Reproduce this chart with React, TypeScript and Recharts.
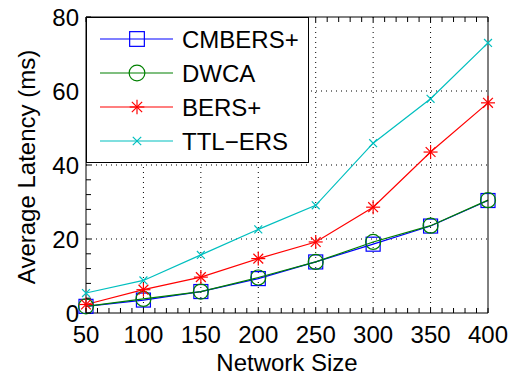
import {
  Legend,
  Line,
  LineChart,
  ReferenceLine,
  XAxis,
  YAxis,
} from 'recharts'

const networkSizes = [50, 100, 150, 200, 250, 300, 350, 400]
const cmbers = [1.8, 3.5, 5.8, 9.3, 13.8, 18.6, 23.5, 30.4]
const dwca = [1.8, 3.8, 5.8, 9.6, 13.8, 19.2, 23.6, 30.5]
const bers = [2.3, 6.3, 9.7, 14.7, 19.2, 28.6, 43.5, 56.8]
const ttlErs = [5.4, 8.8, 15.7, 22.6, 29.1, 45.9, 57.9, 73.0]

const xMajor = [50, 100, 150, 200, 250, 300, 350, 400]
const yMajor = [0, 20, 40, 60, 80]
// minor ticks, matlab style: every 10 on x, every 4 on y
const xMinor = Array.from({ length: 36 }, (_, i) => 50 + i * 10)
const yMinor = Array.from({ length: 21 }, (_, i) => i * 4)

type Kind = 'square' | 'circle' | 'star' | 'cross'

const series: { key: string; name: string; color: string; kind: Kind }[] = [
  { key: 'cmbers', name: 'CMBERS+', color: '#0000ff', kind: 'square' },
  { key: 'dwca', name: 'DWCA', color: '#008000', kind: 'circle' },
  { key: 'bers', name: 'BERS+', color: '#ff0000', kind: 'star' },
  { key: 'ttl', name: 'TTL\u2212ERS', color: '#00bfbf', kind: 'cross' },
]

const data = networkSizes.map((n, i) => ({
  size: n,
  cmbers: cmbers[i],
  dwca: dwca[i],
  bers: bers[i],
  ttl: ttlErs[i],
}))

const font = 'Arial, "Liberation Sans", sans-serif'
const TICK = 5
const gridStyle = { stroke: '#000', strokeDasharray: '1 4', strokeWidth: 1 }

function Marker({ kind, cx, cy, color, scale = 1 }: {
  kind: Kind
  cx: number
  cy: number
  color: string
  scale?: number
}) {
  const s = 7 * scale
  if (kind === 'square')
    return <rect x={cx - s} y={cy - s} width={2 * s} height={2 * s} fill="none" stroke={color} strokeWidth={1.2} />
  if (kind === 'circle')
    return <circle cx={cx} cy={cy} r={s + 0.5} fill="none" stroke={color} strokeWidth={1.2} />
  if (kind === 'star') {
    const d = s * 0.7
    return (
      <g stroke={color} strokeWidth={1.2}>
        <line x1={cx - s} y1={cy} x2={cx + s} y2={cy} />
        <line x1={cx} y1={cy - s} x2={cx} y2={cy + s} />
        <line x1={cx - d} y1={cy - d} x2={cx + d} y2={cy + d} />
        <line x1={cx - d} y1={cy + d} x2={cx + d} y2={cy - d} />
      </g>
    )
  }
  const d = s * 0.75
  return (
    <g stroke={color} strokeWidth={1.2}>
      <line x1={cx - d} y1={cy - d} x2={cx + d} y2={cy + d} />
      <line x1={cx - d} y1={cy + d} x2={cx + d} y2={cy - d} />
    </g>
  )
}

function BottomTick({ x, y, payload }: any) {
  const major = xMajor.includes(payload.value)
  return (
    <g>
      <line x1={x} x2={x} y1={y} y2={y - TICK} stroke="#000" />
      {major && (
        <text x={x} y={y + 30} textAnchor="middle" fontSize={24} fontFamily={font} fill="#000">
          {payload.value}
        </text>
      )}
    </g>
  )
}

function TopTick({ x, y }: any) {
  return <line x1={x} x2={x} y1={y} y2={y + TICK} stroke="#000" />
}

function LeftTick({ x, y, payload }: any) {
  const major = yMajor.includes(payload.value)
  return (
    <g>
      <line x1={x} x2={x + TICK} y1={y} y2={y} stroke="#000" />
      {major && (
        <text x={x - 7} y={y + 9} textAnchor="end" fontSize={24} fontFamily={font} fill="#000">
          {payload.value}
        </text>
      )}
    </g>
  )
}

function RightTick({ x, y }: any) {
  return <line x1={x} x2={x - TICK} y1={y} y2={y} stroke="#000" />
}

function LegendBox() {
  return (
    <svg width={223} height={146} style={{ display: 'block' }}>
      <rect x={0.5} y={0.5} width={222} height={145} fill="#fff" stroke="#000" />
      {series.map((s, i) => {
        const cy = 22 + i * 34
        return (
          <g key={s.key}>
            <line x1={14} x2={87} y1={cy} y2={cy} stroke={s.color} strokeWidth={1.2} />
            <Marker kind={s.kind} cx={51} cy={cy} color={s.color} scale={s.kind === 'cross' ? 0.8 : 1.05} />
            <text x={96} y={cy + 9} fontSize={24} fontFamily={font} fill="#000">
              {s.name}
            </text>
          </g>
        )
      })}
    </svg>
  )
}

export default function App() {
  return (
    <div style={{ position: 'absolute', left: 0, top: 0, background: '#fff' }}>
      <LineChart
        width={518}
        height={376}
        data={data}
        margin={{ top: 16, right: 29, bottom: 0, left: 0 }}
      >
        <XAxis
          xAxisId="x"
          dataKey="size"
          type="number"
          domain={[50, 400]}
          ticks={xMinor}
          interval={0}
          height={63}
          tickSize={0}
          tickMargin={0}
          tickLine={false}
          axisLine={{ stroke: '#000' }}
          tick={<BottomTick />}
          label={{
            content: ({ viewBox }: any) => (
              <text
                x={viewBox.x + viewBox.width / 2}
                y={viewBox.y + 58}
                textAnchor="middle"
                fontSize={24}
                fontFamily={font}
                fill="#000"
              >
                Network Size
              </text>
            ),
          }}
        />
        <XAxis
          xAxisId="top"
          orientation="top"
          dataKey="size"
          type="number"
          domain={[50, 400]}
          ticks={xMinor}
          interval={0}
          height={1}
          tickSize={0}
          tickMargin={0}
          tickLine={false}
          axisLine={{ stroke: '#000' }}
          tick={<TopTick />}
        />
        <YAxis
          yAxisId="y"
          type="number"
          domain={[0, 80]}
          ticks={yMinor}
          interval={0}
          width={86}
          tickSize={0}
          tickMargin={0}
          tickLine={false}
          axisLine={{ stroke: '#000' }}
          tick={<LeftTick />}
          label={{
            content: ({ viewBox }: any) => {
              const cx = viewBox.x + 26
              const cy = viewBox.y + viewBox.height / 2 + 2
              return (
                <text
                  x={cx}
                  y={cy}
                  textAnchor="middle"
                  dominantBaseline="central"
                  transform={`rotate(-90 ${cx} ${cy})`}
                  fontSize={24}
                  fontFamily={font}
                  fill="#000"
                >
                  Average Latency (ms)
                </text>
              )
            },
          }}
        />
        <YAxis
          yAxisId="right"
          orientation="right"
          type="number"
          domain={[0, 80]}
          ticks={yMinor}
          interval={0}
          width={1}
          tickSize={0}
          tickMargin={0}
          tickLine={false}
          axisLine={{ stroke: '#000' }}
          tick={<RightTick />}
        />
        {xMajor.slice(1, -1).map((v) => (
          <ReferenceLine key={`gx${v}`} xAxisId="x" yAxisId="y" x={v} {...gridStyle} />
        ))}
        {yMajor.slice(1, -1).map((v) => (
          <ReferenceLine key={`gy${v}`} xAxisId="x" yAxisId="y" y={v} {...gridStyle} />
        ))}
        {series.map((s) => (
          <Line
            key={s.key}
            xAxisId="x"
            yAxisId="y"
            dataKey={s.key}
            name={s.name}
            type="linear"
            stroke={s.color}
            strokeWidth={1.2}
            isAnimationActive={false}
            activeDot={false}
            dot={(p: any) => (
              <Marker key={`${s.key}-${p.index}`} kind={s.kind} cx={p.cx} cy={p.cy} color={s.color} scale={s.kind === 'cross' ? 0.75 : 1} />
            )}
          />
        ))}
        <Legend
          layout="vertical"
          align="center"
          verticalAlign="middle"
          wrapperStyle={{ left: 86, top: 17, width: 223, height: 146 }}
          content={() => <LegendBox />}
        />
      </LineChart>
    </div>
  )
}
